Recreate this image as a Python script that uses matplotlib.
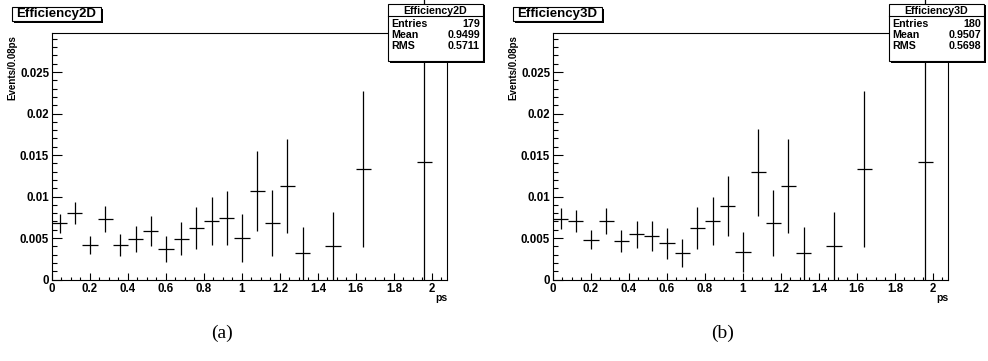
import matplotlib.pyplot as plt
import numpy as np
from matplotlib.patches import Rectangle
from matplotlib.ticker import MultipleLocator, FuncFormatter

plt.rcParams["font.family"] = ["Liberation Sans", "DejaVu Sans"]

# bin centres (0.08 ps bins), empty bins left out
bin_centers = [0.04, 0.12, 0.20, 0.28, 0.36, 0.44, 0.52, 0.60, 0.68, 0.76,
               0.84, 0.92, 1.00, 1.08, 1.16, 1.24, 1.32, 1.48, 1.64, 1.96]

eff2d_values = [0.00675, 0.0080, 0.00415, 0.0073, 0.00415, 0.0049, 0.00587,
                0.00367, 0.0049, 0.00623, 0.00707, 0.0074, 0.0050, 0.0107,
                0.0068, 0.0113, 0.00315, 0.00406, 0.0133, 0.0141]
eff2d_errors = [0.0012, 0.00136, 0.0011, 0.0016, 0.0013, 0.00154, 0.00184,
                0.0016, 0.0020, 0.0025, 0.00286, 0.0033, 0.0029, 0.0048,
                0.0040, 0.00566, 0.0032, 0.0041, 0.0094, 0.0200]

eff3d_values = [0.0073, 0.00703, 0.00478, 0.00703, 0.00463, 0.00543, 0.00523,
                0.00435, 0.00322, 0.00623, 0.00707, 0.0089, 0.00327, 0.0129,
                0.0068, 0.0113, 0.00315, 0.00406, 0.0133, 0.0141]
eff3d_errors = [0.00126, 0.00134, 0.00116, 0.00156, 0.00136, 0.00164, 0.00178,
                0.00182, 0.00166, 0.0025, 0.0029, 0.0036, 0.0024, 0.0052,
                0.0040, 0.00566, 0.0032, 0.0041, 0.0094, 0.0200]

panel_names = ["Efficiency2D", "Efficiency3D"]
panel_stats = [("179", "0.9499", "0.5711"), ("180", "0.9507", "0.5698")]
captions = ["(a)", "(b)"]

BIN_WIDTH = 0.08
W, H = 988, 361


def fx(px):
    return px / W


def fy(py):
    return 1 - py / H


def tick_fmt(v, _):
    if abs(v) < 1e-12:
        return "0"
    return f"{v:g}"


def draw_box(fig, x0, y0, x1, y1, shadow=1.5):
    fig.add_artist(Rectangle((fx(x0 + shadow), fy(y1 + shadow)), fx(x1 - x0), (y1 - y0) / H,
                             transform=fig.transFigure, facecolor="black",
                             edgecolor="none", zorder=9))
    fig.add_artist(Rectangle((fx(x0), fy(y1)), fx(x1 - x0), (y1 - y0) / H,
                             transform=fig.transFigure, facecolor="white",
                             edgecolor="black", linewidth=0.8, zorder=10))


def draw_panel(fig, offset, name, values, errors, stats, caption):
    ax = fig.add_axes([fx(52 + offset), fy(279.5), fx(395), (279.5 - 33) / H])
    vals = np.array(values)
    errs = np.array(errors)
    low = np.minimum(errs, vals)
    ax.errorbar(bin_centers, vals, yerr=[low, errs], xerr=BIN_WIDTH / 2,
                fmt="none", ecolor="black", elinewidth=0.9, capsize=0,
                clip_on=False, zorder=3)
    ax.set_xlim(0, 2.08)
    ax.set_ylim(0, 0.0297)
    for sp in ax.spines.values():
        sp.set_linewidth(0.8)
    ax.xaxis.set_major_locator(MultipleLocator(0.2))
    ax.xaxis.set_minor_locator(MultipleLocator(0.05))
    ax.yaxis.set_major_locator(MultipleLocator(0.005))
    ax.yaxis.set_minor_locator(MultipleLocator(0.001))
    ax.xaxis.set_major_formatter(FuncFormatter(tick_fmt))
    ax.yaxis.set_major_formatter(FuncFormatter(tick_fmt))
    ax.tick_params(axis="both", which="both", direction="in", top=False, right=False,
                   width=0.8, labelsize=8.3)
    ax.tick_params(axis="x", which="major", length=5, pad=2.5)
    ax.tick_params(axis="x", which="minor", length=2.5)
    ax.tick_params(axis="y", which="major", length=7, pad=2)
    ax.tick_params(axis="y", which="minor", length=3.5)
    for lab in ax.get_xticklabels() + ax.get_yticklabels():
        lab.set_fontweight("bold")

    fig.text(fx(447 + offset), fy(298), "ps", ha="right", va="center",
             fontsize=7.5, fontweight="bold")
    fig.text(fx(12 + offset), fy(35), "Events/0.08ps", rotation=90, ha="center",
             va="top", fontsize=7, fontweight="bold")

    # title box
    draw_box(fig, 12 + offset, 7, 101 + offset, 21)
    fig.text(fx(56.5 + offset), fy(14), name, ha="center", va="center",
             fontsize=9.5, fontweight="bold", zorder=11)

    # stats box
    bx0, bx1 = 388 + offset, 483 + offset
    draw_box(fig, bx0, 4, bx1, 61)
    fig.add_artist(plt.Line2D([fx(bx0), fx(bx1)], [fy(16), fy(16)],
                              transform=fig.transFigure, color="black",
                              linewidth=0.8, zorder=11))
    fig.text(fx((bx0 + bx1) / 2), fy(10.5), name, ha="center", va="center",
             fontsize=7.7, fontweight="bold", zorder=11)
    for label, value, ypix in zip(["Entries", "Mean", "RMS"], stats, [24, 35, 46]):
        fig.text(fx(bx0 + 3), fy(ypix), label, ha="left", va="center",
                 fontsize=7.7, fontweight="bold", zorder=11)
        fig.text(fx(bx1 - 3), fy(ypix), value, ha="right", va="center",
                 fontsize=7.7, fontweight="bold", zorder=11)

    fig.text(fx(222 + offset), fy(333), caption, ha="center", va="center",
             fontsize=14, family=["Liberation Serif", "DejaVu Serif"])
    return ax


fig = plt.figure(figsize=(9.88, 3.61), dpi=100)
draw_panel(fig, 0, panel_names[0], eff2d_values, eff2d_errors, panel_stats[0], captions[0])
draw_panel(fig, 501, panel_names[1], eff3d_values, eff3d_errors, panel_stats[1], captions[1])
fig.savefig("out.png", dpi=100)
